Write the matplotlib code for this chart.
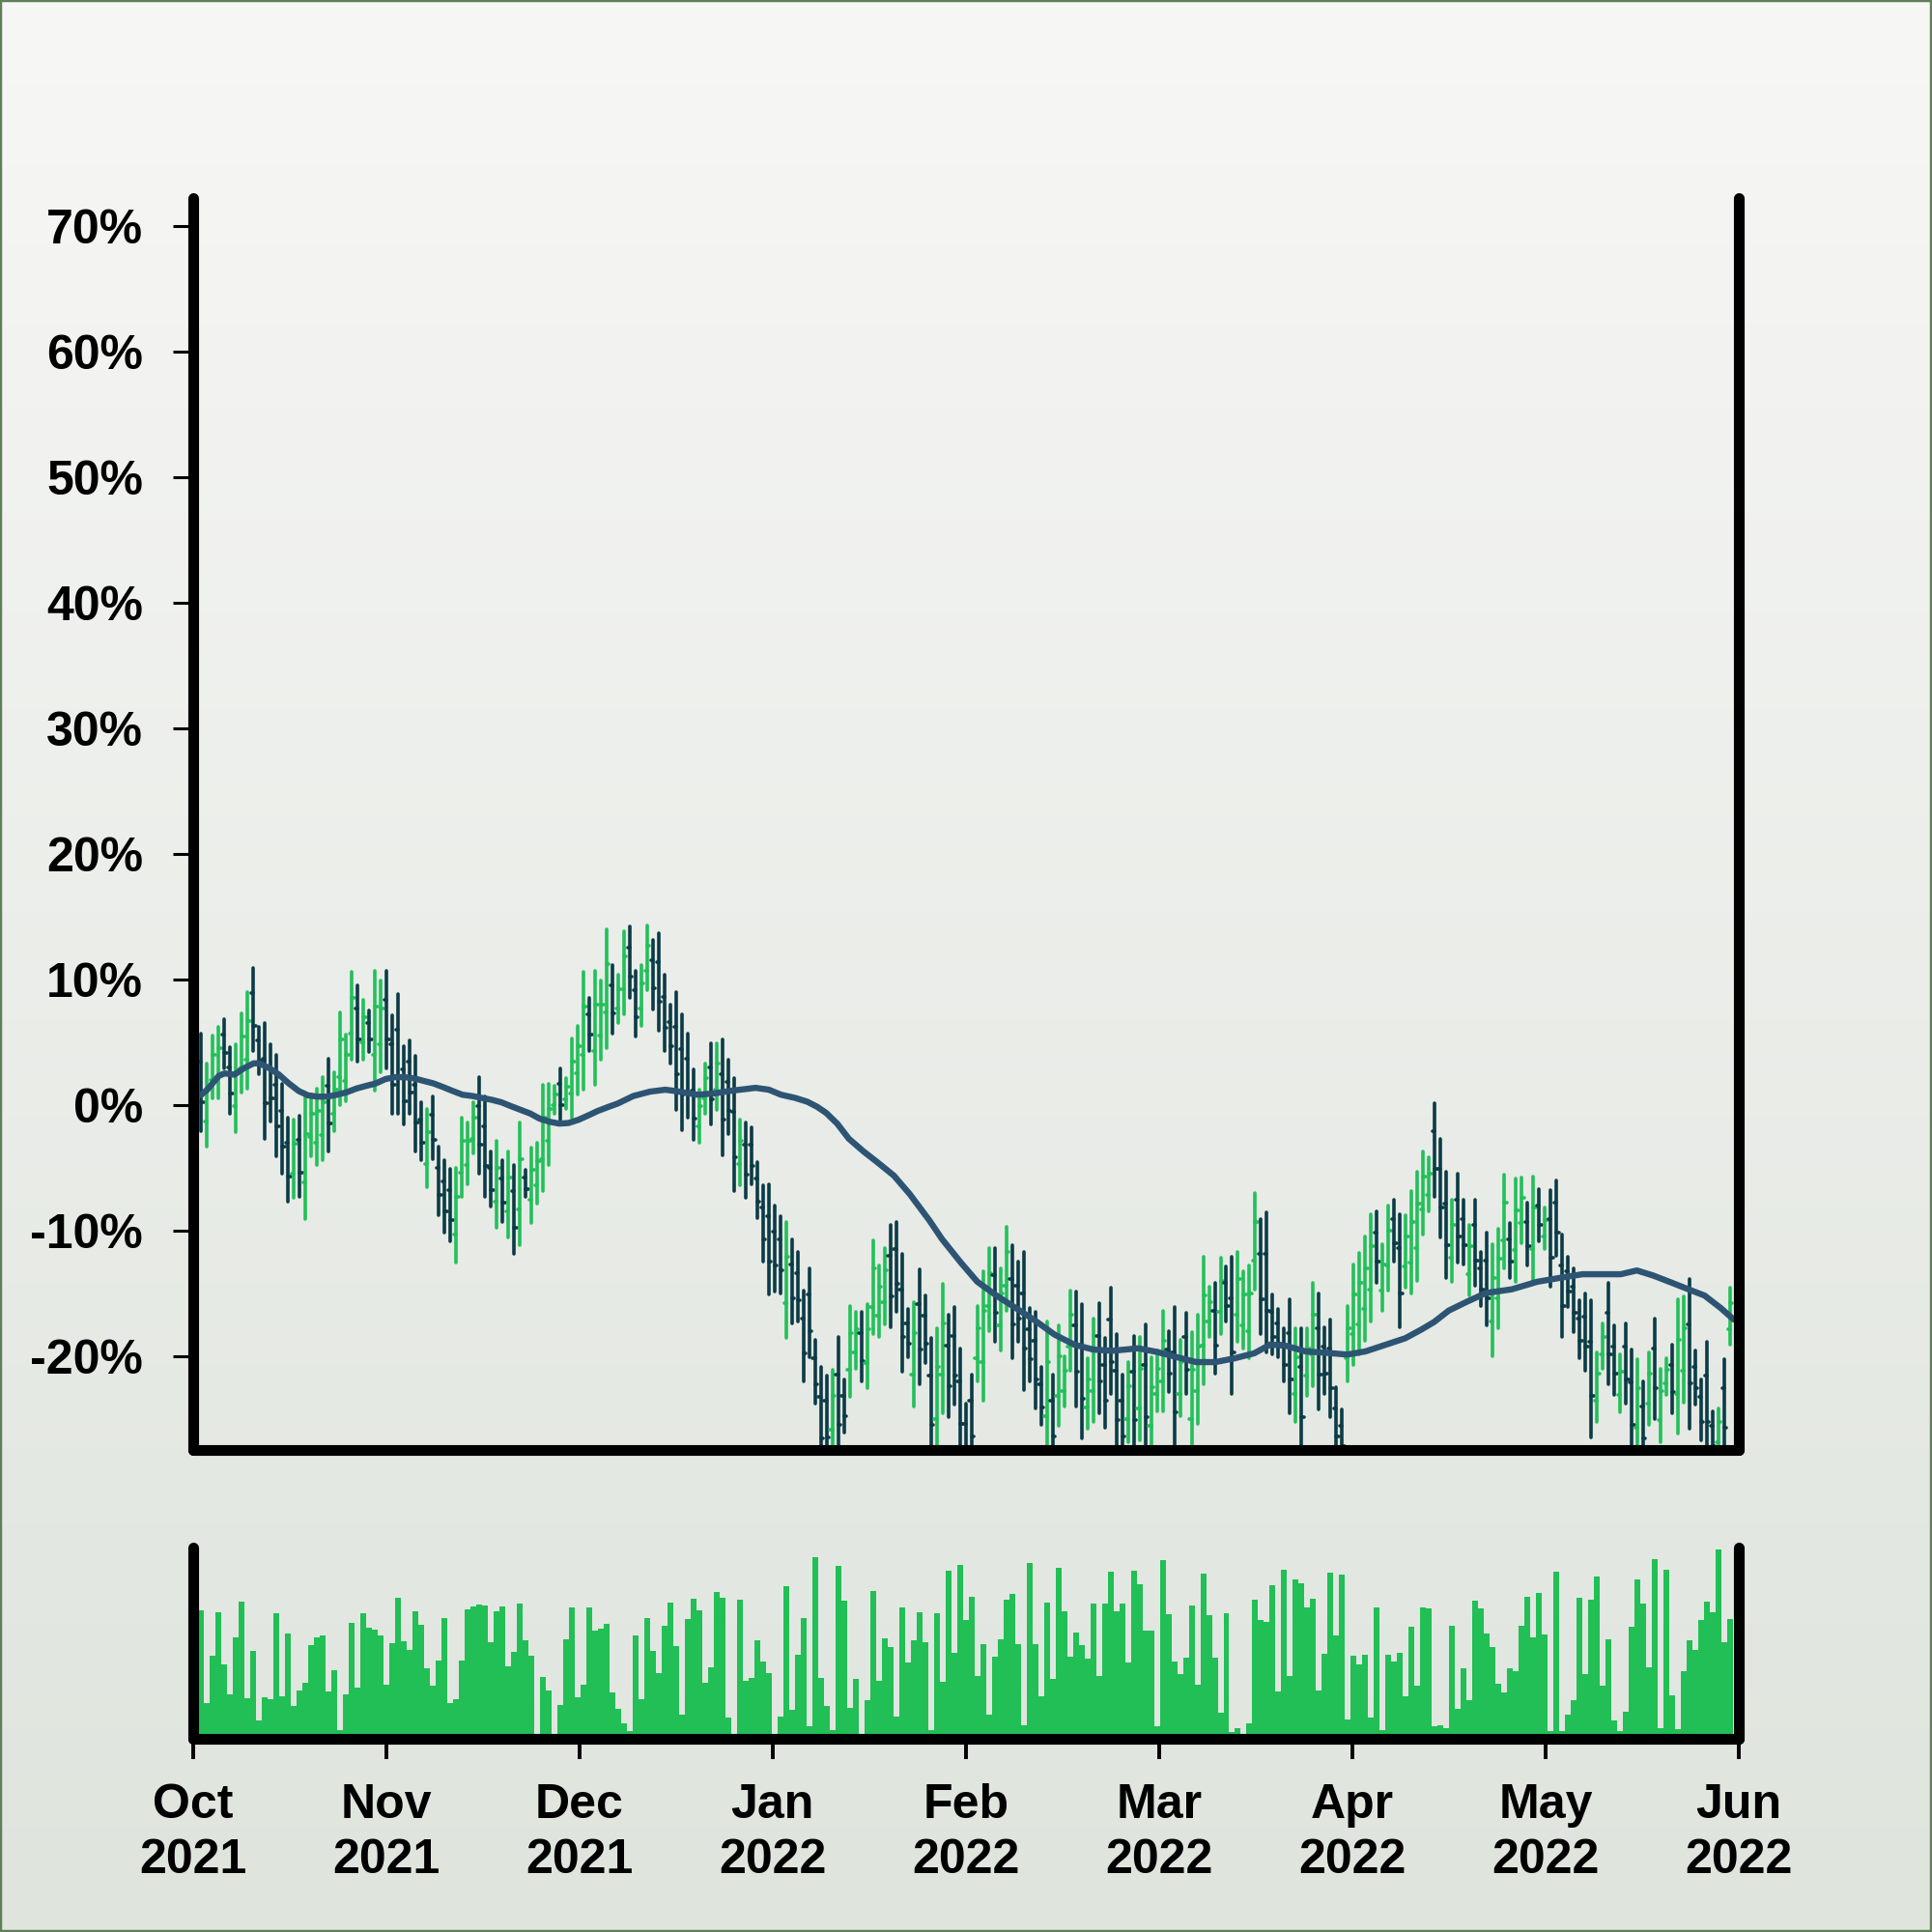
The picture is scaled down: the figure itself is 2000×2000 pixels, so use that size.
import numpy as np
import matplotlib
matplotlib.use("Agg")
import matplotlib.pyplot as plt
from matplotlib.collections import LineCollection
from matplotlib.patches import Rectangle

# ---------------- data (percent change) ----------------
highs = [5.7, 3.3, 5.5, 6.2, 6.8, 4.6, 4.8, 7.3, 9.0, 10.9,
         6.2, 6.5, 4.8, 4.0, 1.7, -1.0, -1.2, -0.9, 0.6, 0.8,
         1.3, 2.2, 3.7, 2.6, 7.4, 5.6, 10.6, 9.5, 8.4, 7.5,
         10.7, 9.9, 10.7, 7.1, 8.8, 4.7, 5.1, 3.9, 0.2, -0.3,
         0.7, -3.3, -4.4, -5.1, -5.0, -1.0, -1.4, 0.2, 2.2, 0.7,
         -3.7, -2.9, -4.4, -3.7, -4.8, -1.4, -5.2, -3.4, -3.0, 1.6,
         1.7, 1.5, 2.9, 2.1, 5.3, 6.3, 10.6, 8.5, 10.7, 9.9,
         14.0, 11.1, 10.4, 13.8, 14.2, 10.7, 11.1, 14.3, 13.1, 13.7,
         10.4, 8.0, 9.0, 7.2, 5.7, 2.8, 1.2, 3.3, 4.9, 4.9,
         5.2, 3.6, 2.1, -1.2, -1.4, -1.8, -4.6, -6.4, -6.3, -8.0,
         -8.9, -9.3, -10.7, -11.7, -14.8, -13.0, -18.7, -20.9, -21.6, -21.1,
         -18.5, -21.9, -16.0, -16.5, -16.5, -15.9, -10.8, -12.8, -11.4, -9.6,
         -9.3, -11.9, -16.3, -15.7, -13.1, -15.2, -18.6, -17.8, -14.3, -16.7,
         -16.1, -19.4, -23.8, -21.5, -16.0, -13.3, -11.4, -11.4, -13.0, -9.7,
         -11.2, -12.5, -11.7, -16.2, -16.5, -20.9, -17.3, -21.5, -17.6, -20.0,
         -14.8, -14.9, -15.9, -20.2, -17.0, -15.8, -18.6, -14.6, -18.3, -21.5,
         -20.5, -18.4, -18.5, -17.5, -20.1, -19.6, -16.4, -18.0, -16.1, -18.7,
         -16.6, -18.1, -16.7, -12.1, -14.5, -14.2, -12.2, -12.9, -12.1, -11.7,
         -13.3, -12.8, -7.0, -9.1, -8.6, -15.1, -16.3, -17.8, -15.5, -17.8,
         -17.8, -17.8, -14.2, -15.0, -17.7, -17.1, -22.5, -24.3, -16.0, -12.7,
         -11.8, -10.5, -8.7, -8.5, -11.1, -8.0, -7.6, -8.7, -8.8, -6.9,
         -5.3, -3.7, -4.2, 0.1, -2.7, -5.3, -7.6, -5.5, -7.6, -9.6,
         -7.6, -11.7, -10.2, -11.1, -9.9, -5.6, -9.4, -5.9, -5.8, -7.8,
         -5.7, -6.7, -8.2, -6.8, -6.0, -10.3, -12.1, -13.0, -15.6, -15.0,
         -15.6, -19.7, -17.4, -14.2, -17.6, -19.9, -17.4, -19.5, -20.3, -22.0,
         -19.7, -17.0, -21.0, -20.2, -19.1, -15.5, -15.3, -13.9, -19.6, -21.9,
         -18.9, -24.4, -24.2, -20.3, -14.6]

lows = [-2.1, -3.3, 0.5, 0.5, 2.9, -0.7, -2.2, 1.0, 1.3, 4.3,
        2.4, -2.7, -1.3, -4.1, -5.5, -7.7, -7.4, -7.3, -9.1, -4.1,
        -4.8, -4.4, -3.7, -2.1, 0.0, 0.3, 3.6, 3.4, 3.6, 4.2,
        1.1, 2.6, 2.9, -0.7, -0.7, -1.6, -0.7, -3.7, -4.4, -6.6,
        -4.3, -8.8, -10.2, -10.9, -12.6, -7.3, -6.3, -3.9, -5.5, -7.3,
        -8.1, -9.8, -9.3, -10.6, -11.9, -11.2, -7.3, -9.4, -7.9, -6.9,
        -4.8, -0.7, -1.2, -0.3, -1.0, 0.8, 1.2, 4.3, 1.6, 3.6,
        4.5, 5.7, 6.5, 7.2, 8.5, 5.4, 6.3, 9.1, 7.6, 5.9,
        4.3, 3.3, -0.4, -2.0, -1.0, -2.8, -3.0, -0.7, -1.6, -0.4,
        -4.0, -2.3, -6.9, -6.4, -7.4, -6.3, -9.0, -12.5, -15.1, -14.9,
        -15.0, -18.6, -17.4, -17.3, -22.0, -20.1, -23.8, -29.0, -28.5, -28.0,
        -28.5, -26.1, -23.3, -21.0, -22.0, -22.6, -18.3, -18.5, -17.5, -17.7,
        -16.5, -21.3, -20.1, -24.0, -22.3, -20.6, -28.5, -28.0, -24.6, -24.9,
        -23.9, -28.0, -29.0, -28.5, -22.0, -23.6, -18.0, -18.9, -19.6, -16.4,
        -20.2, -18.9, -22.7, -22.0, -24.2, -25.5, -28.0, -28.5, -25.6, -24.0,
        -21.2, -24.0, -26.6, -25.8, -25.3, -24.6, -25.7, -23.0, -28.0, -28.5,
        -26.9, -28.0, -26.7, -28.0, -28.0, -24.4, -24.4, -22.9, -28.0, -24.8,
        -23.0, -28.0, -25.4, -22.3, -18.5, -21.4, -18.3, -17.3, -23.0, -18.9,
        -19.4, -20.2, -14.7, -18.3, -19.7, -19.9, -20.1, -22.0, -24.6, -25.3,
        -28.0, -23.2, -22.4, -24.3, -23.0, -24.9, -28.0, -28.5, -22.0, -20.7,
        -19.9, -18.8, -17.3, -14.2, -16.4, -14.8, -12.5, -17.7, -14.6, -15.0,
        -14.0, -10.3, -8.5, -7.3, -10.6, -13.8, -14.1, -12.6, -12.7, -15.2,
        -14.4, -16.0, -17.6, -20.0, -17.8, -13.0, -13.8, -14.1, -11.0, -12.8,
        -14.0, -10.9, -11.5, -14.5, -12.0, -18.5, -16.1, -18.1, -20.2, -21.2,
        -26.5, -25.3, -21.0, -22.3, -23.1, -24.5, -23.8, -28.0, -28.0, -28.5,
        -25.5, -25.0, -26.9, -23.1, -24.6, -26.2, -23.7, -25.8, -23.9, -26.7,
        -28.0, -28.5, -28.0, -28.0, -19.1]

opens = [3.4, -1.3, 2.0, 2.2, 5.6, 3.0, -0.1, 2.9, 3.6, 8.9,
         5.1, 3.7, 3.0, 1.6, -0.5, -3.0, -5.5, -2.8, -6.2, -2.6,
         -3.0, -2.4, 1.5, -0.7, 2.2, 1.9, 5.7, 7.7, 5.0, 6.5,
         4.0, 4.8, 8.4, 4.8, 6.0, 2.8, 3.4, 1.6, -1.2, -4.7,
         -0.8, -5.0, -6.1, -6.8, -10.3, -5.4, -4.8, -2.7, -0.1, -1.7,
         -5.0, -7.7, -5.9, -8.5, -6.9, -8.3, -5.8, -7.6, -6.4, -4.3,
         -2.9, 0.0, 1.7, 0.4, 0.9, 2.5, 4.0, 7.2, 4.3, 5.5,
         7.4, 9.5, 7.7, 9.2, 12.5, 9.1, 7.7, 10.7, 11.5, 11.4,
         8.6, 6.6, 6.2, 4.4, 3.7, 1.1, -1.7, 0.5, 3.0, 1.2,
         2.4, 1.8, -0.6, -4.7, -3.2, -3.2, -5.9, -8.2, -8.9, -10.1,
         -10.7, -15.8, -12.7, -13.4, -17.0, -15.1, -20.2, -23.3, -23.6, -25.9,
         -21.5, -23.2, -21.1, -19.7, -18.2, -20.6, -16.1, -16.8, -15.7, -12.0,
         -11.5, -14.7, -17.4, -21.5, -15.9, -16.8, -21.6, -25.0, -21.5, -19.2,
         -18.4, -22.0, -25.4, -23.6, -20.2, -20.5, -16.0, -13.6, -17.6, -14.4,
         -13.9, -14.4, -15.0, -17.9, -18.8, -22.3, -24.8, -23.6, -23.2, -22.8,
         -19.3, -17.6, -19.1, -24.1, -22.8, -18.4, -20.7, -17.1, -21.2, -23.6,
         -25.0, -21.3, -24.2, -20.7, -25.6, -23.0, -22.0, -19.5, -19.7, -23.0,
         -18.5, -25.0, -22.8, -19.2, -17.3, -16.4, -16.5, -14.2, -15.4, -16.7,
         -17.6, -18.0, -12.4, -11.9, -11.9, -16.5, -17.4, -19.1, -18.2, -23.0,
         -20.9, -21.6, -19.9, -17.8, -19.3, -19.4, -24.2, -25.6, -20.2, -18.3,
         -17.5, -16.3, -14.7, -10.2, -14.8, -12.8, -9.1, -11.4, -12.9, -12.6,
         -11.4, -8.3, -7.2, -2.1, -5.1, -7.9, -12.2, -7.6, -9.1, -13.5,
         -9.6, -13.0, -12.4, -17.3, -15.4, -10.8, -10.7, -11.6, -9.4, -9.3,
         -11.5, -8.0, -10.5, -9.1, -7.8, -12.8, -13.3, -14.5, -17.0, -16.9,
         -18.9, -23.6, -19.9, -16.6, -19.3, -23.1, -19.3, -22.1, -25.7, -24.0,
         -23.8, -19.4, -25.1, -22.2, -20.7, -23.0, -21.2, -17.5, -20.9, -23.3,
         -21.6, -25.6, -26.9, -22.6, -17.9]

closes = [0.2, 1.3, 4.0, 4.5, 4.1, 0.9, 2.7, 5.4, 6.7, 6.3,
          3.5, 0.1, 0.5, -1.7, -3.3, -5.7, -3.1, -5.4, -2.3, -0.7,
          -0.5, 0.2, -1.5, 1.2, 5.2, 4.0, 8.5, 5.2, 7.0, 5.2,
          7.8, 7.7, 5.2, 1.6, 2.2, 0.3, 1.0, -1.4, -3.0, -2.2,
          -2.8, -7.2, -8.5, -9.2, -7.3, -2.9, -2.9, -1.0, -3.2, -4.9,
          -6.8, -5.0, -7.8, -5.8, -9.8, -4.3, -6.7, -5.2, -4.5, -1.0,
          -0.3, 0.8, 0.0, 1.4, 3.4, 4.7, 7.8, 5.6, 8.0, 8.0,
          11.2, 7.3, 9.2, 11.8, 10.2, 7.0, 9.7, 12.7, 9.3, 8.2,
          6.1, 4.7, 2.4, 0.8, 1.0, -1.1, -0.1, 2.1, 0.4, 3.3,
          -1.2, -0.5, -4.2, -2.9, -5.6, -4.9, -7.7, -10.7, -12.5, -12.8,
          -13.2, -12.1, -15.4, -15.6, -19.8, -18.0, -22.3, -26.6, -26.5, -23.2,
          -25.5, -24.8, -18.2, -17.9, -20.4, -17.9, -13.0, -14.5, -13.2, -15.3,
          -14.3, -18.5, -19.0, -18.2, -19.5, -19.0, -25.5, -20.9, -17.4, -22.4,
          -21.6, -25.4, -27.4, -26.4, -17.8, -16.4, -13.4, -16.6, -15.0, -11.7,
          -17.5, -17.0, -19.4, -20.3, -21.9, -24.1, -20.5, -26.4, -20.0, -21.2,
          -16.7, -21.3, -23.4, -21.9, -19.5, -22.0, -23.6, -20.5, -25.1, -26.4,
          -22.4, -25.1, -21.0, -24.9, -22.5, -21.0, -18.8, -21.4, -24.5, -20.5,
          -21.1, -21.1, -19.3, -15.2, -15.7, -19.2, -14.0, -16.0, -19.7, -13.9,
          -15.1, -15.0, -9.3, -15.5, -16.4, -18.5, -19.0, -20.7, -21.9, -20.1,
          -24.9, -19.4, -16.7, -21.5, -21.4, -22.6, -26.4, -27.2, -17.8, -15.1,
          -14.2, -13.0, -11.3, -12.5, -12.7, -10.0, -11.0, -15.0, -10.5, -9.3,
          -7.9, -5.7, -5.5, -5.1, -8.2, -11.2, -9.6, -10.5, -11.2, -11.3,
          -12.4, -14.7, -15.4, -13.8, -12.3, -7.8, -12.5, -8.4, -7.4, -11.3,
          -8.2, -9.6, -9.2, -12.2, -10.2, -16.0, -14.9, -16.6, -18.8, -19.3,
          -23.2, -21.4, -18.5, -19.9, -21.4, -21.3, -21.9, -25.5, -22.6, -26.6,
          -21.4, -22.6, -22.8, -21.1, -22.9, -18.7, -17.8, -22.2, -22.6, -25.3,
          -25.3, -27.2, -25.3, -25.7, -15.8]

volumes = [66.7, 18.5, 42.8, 65.3, 38.7, 23.0, 52.5, 70.8, 20.8, 45.5,
           9.5, 21.3, 20.3, 65.0, 22.0, 54.5, 17.2, 24.8, 29.2, 48.3,
           52.5, 53.3, 24.5, 35.3, 4.7, 23.0, 60.0, 26.7, 65.0, 57.5,
           56.5, 53.3, 28.2, 49.5, 73.0, 50.5, 46.2, 65.8, 59.2, 36.7,
           27.7, 40.3, 62.5, 18.5, 20.5, 40.3, 67.0, 68.3, 69.3, 69.0,
           49.8, 66.2, 68.3, 37.3, 45.0, 69.8, 51.0, 42.8, 0.0, 32.2,
           24.8, 0.0, 17.5, 51.3, 67.8, 21.5, 27.8, 68.0, 56.0, 57.0,
           59.5, 23.8, 15.5, 8.0, 4.2, 53.3, 20.3, 62.5, 45.5, 34.2,
           58.5, 70.5, 47.8, 12.5, 62.0, 72.3, 66.5, 29.2, 37.0, 76.0,
           73.0, 10.8, 0.0, 72.0, 30.0, 31.7, 51.0, 40.0, 33.8, 0.0,
           11.3, 78.8, 15.0, 43.7, 62.3, 6.5, 94.0, 31.3, 17.0, 4.5,
           89.3, 71.5, 16.0, 31.0, 0.0, 19.8, 76.3, 30.0, 52.2, 47.3,
           11.3, 67.8, 39.7, 50.8, 65.7, 50.2, 4.7, 64.8, 29.3, 87.2,
           44.5, 89.8, 61.3, 73.3, 32.5, 48.8, 12.5, 42.5, 51.3, 72.2,
           74.8, 49.0, 7.0, 90.8, 49.0, 22.0, 70.3, 30.8, 88.3, 65.8,
           42.5, 54.8, 48.7, 41.5, 69.8, 32.5, 69.8, 86.3, 65.8, 70.0,
           39.3, 86.8, 80.0, 55.8, 55.8, 6.5, 92.5, 64.5, 39.8, 33.5,
           41.8, 69.2, 28.0, 85.3, 64.0, 41.8, 13.5, 65.0, 3.5, 5.7,
           0.0, 8.2, 71.8, 61.7, 60.3, 79.5, 24.5, 87.5, 32.5, 82.3,
           80.3, 68.0, 72.7, 25.0, 44.0, 85.8, 53.5, 84.8, 10.0, 42.8,
           38.5, 43.3, 10.8, 68.2, 4.5, 43.7, 39.8, 44.7, 22.0, 57.8,
           27.5, 68.2, 67.5, 6.5, 6.8, 5.5, 58.7, 15.5, 36.3, 20.0,
           71.3, 67.3, 54.7, 47.3, 28.5, 24.0, 36.5, 35.0, 58.7, 73.3,
           52.3, 75.7, 54.0, 3.8, 86.7, 4.2, 12.3, 20.0, 72.8, 33.3,
           71.8, 84.2, 27.3, 51.7, 9.5, 3.8, 14.2, 57.8, 82.3, 70.2,
           37.0, 92.8, 5.7, 87.5, 22.5, 5.2, 35.0, 51.0, 46.0, 61.7,
           71.2, 65.5, 98.0, 50.2, 62.2]

# moving-average line, read at sample positions (bar index, percent)
ma_pos = [0, 1, 3, 4, 5.7, 7.3, 9, 10, 11.8, 13.4, 15.1, 16.8, 18.4, 20.1, 21.8,
          23.4, 25.1, 26.8, 28.4, 30.1, 31.8, 33.4, 35.1, 36.8, 38.4, 40.1, 41.8,
          43.4, 45.1, 46.8, 48.4, 50.1, 51.8, 53.4, 55.1, 56.8, 58.4, 60.1, 61.8,
          63.4, 65.1, 66.8, 68.4, 70.1, 71.9, 74.6, 77.5, 80.1, 81.8, 85.7, 88.5,
          91.2, 95.7, 98, 100.1, 102.5, 104.6, 106.3, 107.9, 109.8, 111.8, 114.3,
          116.8, 119.6, 122.3, 125.7, 127.9, 131.2, 134, 137.3, 141, 144, 147.3,
          150.7, 154, 157.3, 161.8, 165.1, 168.4, 171.8, 175.1, 178.4, 181.8,
          184.6, 187.3, 190.7, 194, 197.9, 201, 204.3, 207.9, 210.7, 212.9, 215.4,
          218.5, 221.8, 226.3, 230.7, 235.1, 238.5, 241.8, 245.1, 247.9, 250.7,
          253.5, 256.8, 259.6, 262.4, 264.6]
ma_val = [0.8, 1.2, 2.3, 2.5, 2.4, 2.9, 3.3, 3.3, 2.9, 2.4, 1.7, 1.1, 0.75, 0.65, 0.65,
          0.8, 1.0, 1.3, 1.5, 1.7, 2.05, 2.2, 2.2, 2.1, 1.9, 1.7, 1.4,
          1.1, 0.8, 0.7, 0.55, 0.4, 0.2, -0.1, -0.4, -0.7, -1.1, -1.35, -1.5,
          -1.45, -1.2, -0.85, -0.5, -0.2, 0.1, 0.7, 1.05, 1.2, 1.1, 0.8, 0.9,
          1.1, 1.35, 1.2, 0.8, 0.55, 0.25, -0.15, -0.65, -1.5, -2.7, -3.7,
          -4.6, -5.65, -7.1, -9.2, -10.7, -12.6, -14.1, -15.2, -16.3, -17.2, -18.3,
          -19.1, -19.5, -19.6, -19.4, -19.7, -20.1, -20.5, -20.5, -20.2, -19.8,
          -19.1, -19.2, -19.65, -19.75, -19.9, -19.65, -19.15, -18.6, -17.9, -17.3, -16.4,
          -15.7, -15.0, -14.7, -14.1, -13.75, -13.5, -13.5, -13.5, -13.2, -13.6,
          -14.1, -14.7, -15.2, -16.2, -17.1]

yticks_pct = [-20, -10, 0, 10, 20, 30, 40, 50, 60, 70]
month_labels = ["Oct\n2021", "Nov\n2021", "Dec\n2021", "Jan\n2022", "Feb\n2022",
                "Mar\n2022", "Apr\n2022", "May\n2022", "Jun\n2022"]

# ---------------- styling ----------------
UP = "#22c05a"
DOWN = "#0b3b47"
MA_COLOR = "#2d5473"
VOL_COLOR = "#21bf55"
FONT = "Liberation Sans"
SPINE_W = 4.0

fig = plt.figure(figsize=(10, 10), dpi=200)

# background gradient
bg = fig.add_axes([0, 0, 1, 1], zorder=-10)
top = np.array([247, 247, 246]) / 255.0
bot = np.array([223, 228, 221]) / 255.0
t = np.linspace(0, 1, 256)[:, None]
grad = top[None, :] * (1 - t) + bot[None, :] * t
bg.imshow(grad[:, None, :], aspect="auto", extent=[0, 1, 0, 1], origin="upper")
bg.set_axis_off()

fig.patches.append(Rectangle((0, 0), 1, 1, transform=fig.transFigure, fill=False,
                             edgecolor="#5f7f58", linewidth=1.6, zorder=100))

n = len(highs)
x = np.arange(n)
xlim = (-1.5, 265.5)

ax = fig.add_axes([0.09975, 0.2495, 0.80025, 0.64775])
axv = fig.add_axes([0.09975, 0.1, 0.80025, 0.099])
for a in (ax, axv):
    a.set_facecolor("none")
    a.set_xlim(*xlim)
    a.spines["top"].set_visible(False)
    for s in ("left", "right", "bottom"):
        a.spines[s].set_linewidth(SPINE_W)
        a.spines[s].set_color("black")
        a.spines[s].set_capstyle("round")
        a.spines[s].set_zorder(10)

# OHLC bars
segs, cols = [], []
for i in range(n):
    c = UP if closes[i] >= opens[i] else DOWN
    segs.append([(x[i], lows[i]), (x[i], highs[i])])
    segs.append([(x[i] - 0.4, opens[i]), (x[i], opens[i])])
    segs.append([(x[i], closes[i]), (x[i] + 0.4, closes[i])])
    cols += [c, c, c]
lc = LineCollection(segs, colors=cols, linewidths=1.3, capstyle="round")
ax.add_collection(lc)
ax.plot(ma_pos, ma_val, color=MA_COLOR, lw=2.3, solid_capstyle="round",
        solid_joinstyle="round", zorder=3)

ax.set_ylim(-27.5, 72.2)
ax.set_yticks(yticks_pct)
ax.set_yticklabels([f"{v}%" for v in yticks_pct])
ax.tick_params(axis="y", length=7.5, width=1.1, pad=11, labelsize=18, left=True, right=False)
ax.tick_params(axis="x", bottom=False, labelbottom=False)
for lbl in ax.get_yticklabels():
    lbl.set_fontfamily(FONT)
    lbl.set_fontweight("bold")
for tl in ax.yaxis.get_ticklines():
    tl.set_solid_capstyle("round")

# volume
axv.bar(x, volumes, width=1.0, color=VOL_COLOR, linewidth=0)
axv.set_ylim(0, 99)
axv.set_yticks([])
axv.set_xticks(np.linspace(xlim[0], xlim[1], len(month_labels)))
axv.set_xticklabels(month_labels)
axv.tick_params(axis="x", length=7.5, width=1.4, pad=9, labelsize=18)
for lbl in axv.get_xticklabels():
    lbl.set_fontfamily(FONT)
    lbl.set_fontweight("bold")
    lbl.set_linespacing(1.3)

fig.savefig("out.png", dpi=200)
